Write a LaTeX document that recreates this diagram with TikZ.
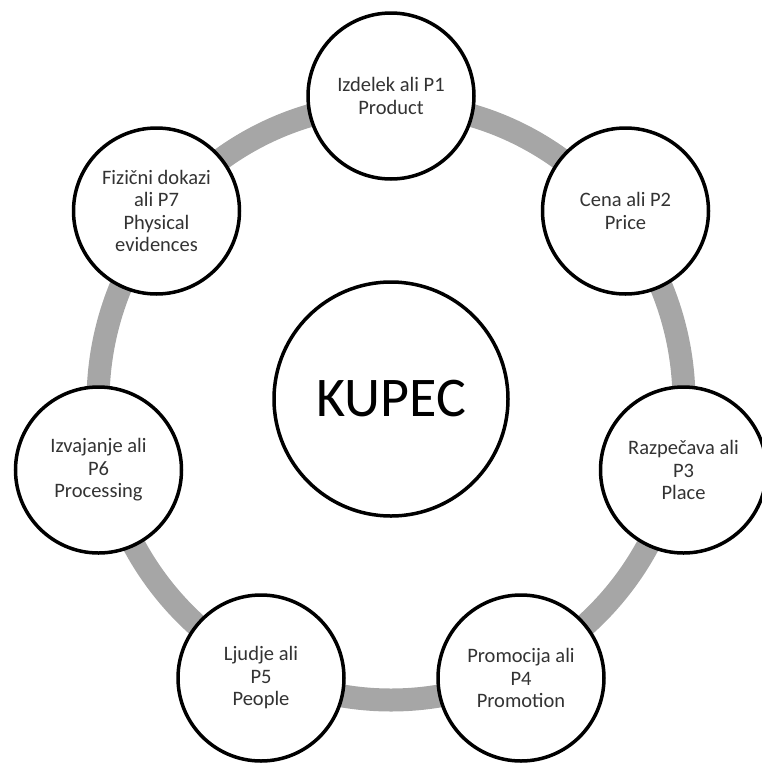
\documentclass[tikz,border=0pt]{standalone}
\usepackage{fontspec}
\setmainfont{Carlito}
\definecolor{ringgray}{HTML}{A6A6A6}
\definecolor{textgray}{HTML}{333333}
\begin{document}
\begin{tikzpicture}[x=1pt,y=-1pt,
  ring/.style={line width=23pt, draw=ringgray},
  pnode/.style={circle, draw=black, line width=3.5pt, fill=white, minimum size=166pt, inner sep=0pt, align=center, font=\fontsize{20.5}{22.5}\selectfont, text=textgray},
  hub/.style={circle, draw=black, line width=3.5pt, fill=white, minimum size=234pt, inner sep=0pt, font=\fontsize{56}{60}\selectfont}]
\useasboundingbox (0,0) rectangle (762,769);
\coordinate (c) at (391,402);
\draw[ring] (c) ellipse [x radius=293, y radius=298];
\node[hub] (kupec) at (391,399) {KUPEC};
\node[pnode] (p1) at (391,96) {Izdelek ali P1\\Product};
\node[pnode] (p2) at (625.5,211) {Cena ali P2\\Price};
\node[pnode] (p3) at (683.5,470) {Razpečava ali\\P3\\Place};
\node[pnode] (p4) at (521,678) {Promocija ali\\P4\\Promotion};
\node[pnode] (p5) at (261,678) {Ljudje ali\\P5\\People};
\node[pnode] (p6) at (98.5,470) {Izvajanje ali\\P6\\Processing};
\node[pnode] (p7) at (156.5,211) {Fizični dokazi\\ali P7\\Physical\\evidences};
\end{tikzpicture}
\end{document}
